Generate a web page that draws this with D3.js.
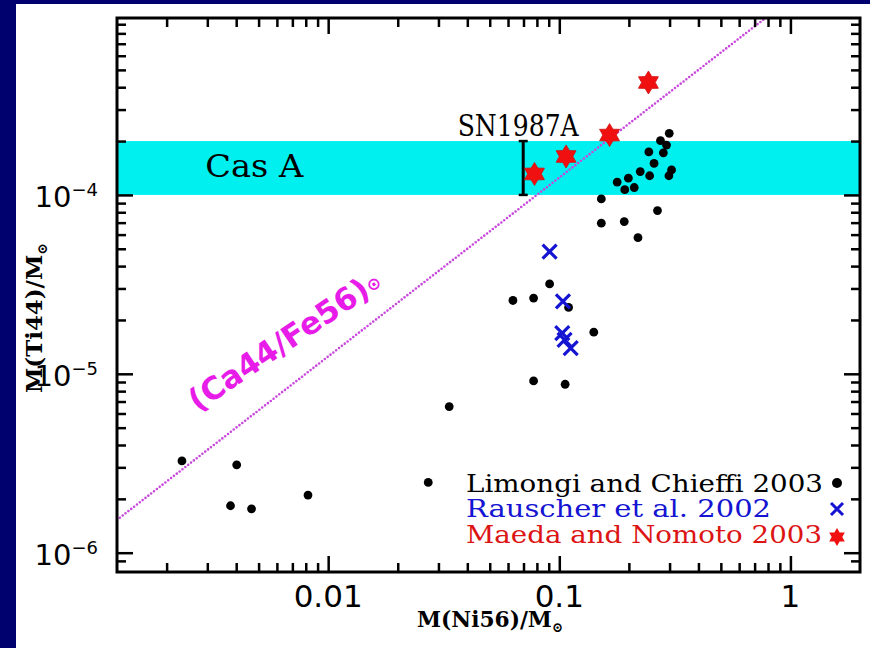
<!DOCTYPE html>
<html>
<head>
<meta charset="utf-8">
<script src="https://cdn.jsdelivr.net/npm/d3@7"></script>
<style>
  body { margin: 0; background: #00006f; }
  svg { display: block; }
</style>
</head>
<body>
<svg id="chart" width="870" height="648"></svg>
<script>
// Data
const limongiNi = [0.299, 0.274, 0.291, 0.282, 0.244, 0.257, 0.306, 0.298, 0.224, 0.246, 0.178, 0.199, 0.192, 0.211, 0.152, 0.266, 0.152, 0.191, 0.219,
                   0.0908, 0.063, 0.0774, 0.1097, 0.141, 0.0774, 0.106,
                   0.00233, 0.00402, 0.00378, 0.00466, 0.0334, 0.0271, 0.00818];
const limongiTi = [2.21e-4, 2.01e-4, 1.90e-4, 1.72e-4, 1.74e-4, 1.50e-4, 1.38e-4, 1.28e-4, 1.35e-4, 1.28e-4, 1.18e-4, 1.24e-4, 1.07e-4, 1.10e-4, 9.5e-5, 8.17e-5, 6.95e-5, 7.1e-5, 5.77e-5,
                   3.18e-5, 2.57e-5, 2.65e-5, 2.35e-5, 1.71e-5, 9.12e-6, 8.74e-6,
                   3.26e-6, 3.10e-6, 1.83e-6, 1.76e-6, 6.56e-6, 2.47e-6, 2.10e-6];
const rauscherNi = [0.0908, 0.1037, 0.103, 0.1054, 0.112];
const rauscherTi = [4.82e-5, 2.54e-5, 1.69e-5, 1.55e-5, 1.39e-5];
const maedaNi = [0.0781, 0.107, 0.165, 0.243];
const maedaTi = [1.31e-4, 1.64e-4, 2.16e-4, 4.25e-4];

const casABand = [1e-4, 2e-4];
const sn1987aNi = 0.0698;
const sn1987aTi = [1e-4, 2e-4];
const solarRatio = 1.25e-3;   // Ti44/Ni56 along (Ca44/Fe56)sun

const xMajor = [0.01, 0.1, 1];
const xMajorLabels = ["0.01", "0.1", "1"];
const xMinor = [0.002, 0.003, 0.004, 0.005, 0.006, 0.007, 0.008, 0.009,
                0.02, 0.03, 0.04, 0.05, 0.06, 0.07, 0.08, 0.09,
                0.2, 0.3, 0.4, 0.5, 0.6, 0.7, 0.8, 0.9];
const yMajor = [1e-6, 1e-5, 1e-4];
const yMajorExp = ["6", "5", "4"];
const yMinor = [9e-7, 2e-6, 3e-6, 4e-6, 5e-6, 6e-6, 7e-6, 8e-6, 9e-6,
                2e-5, 3e-5, 4e-5, 5e-5, 6e-5, 7e-5, 8e-5, 9e-5,
                2e-4, 3e-4, 4e-4, 5e-4, 6e-4, 7e-4, 8e-4, 9e-4];

const legendLabels = ["Limongi and Chieffi 2003", "Rauscher et al. 2002", "Maeda and Nomoto 2003"];
const legendColors = ["#000000", "#1414d2", "#dc1414"];

// Layout
const plot = { left: 117, right: 860, top: 18, bottom: 572 };
const svg = d3.select('#chart');

svg.append('rect').attr('x', 0).attr('y', 0).attr('width', 870).attr('height', 648).attr('fill', '#00006f');
svg.append('rect').attr('x', 16).attr('y', 4).attr('width', 854).attr('height', 644).attr('fill', '#ffffff');

const x = d3.scaleLog().domain([0.00122, 2.0]).range([plot.left, plot.right]);
const y = d3.scaleLog().domain([7.8e-7, 9.75e-4]).range([plot.bottom, plot.top]);

svg.append('clipPath').attr('id', 'clip').append('rect')
    .attr('x', plot.left).attr('y', plot.top)
    .attr('width', plot.right - plot.left).attr('height', plot.bottom - plot.top);

const g = svg.append('g').attr('clip-path', 'url(#clip)');

// Cas A band
g.append('rect')
    .attr('x', plot.left).attr('width', plot.right - plot.left)
    .attr('y', y(casABand[1])).attr('height', y(casABand[0]) - y(casABand[1]))
    .attr('fill', '#00f0f0');

// solar ratio line
const lineX = x.domain();
g.append('path')
    .attr('d', d3.line()([[x(lineX[0]), y(lineX[0] * solarRatio)], [x(lineX[1]), y(lineX[1] * solarRatio)]]))
    .attr('stroke', '#c848dc').attr('stroke-width', 2.6)
    .attr('stroke-dasharray', '0,3.6').attr('stroke-linecap', 'round').attr('fill', 'none');

// line label
const labPos = [x(0.00272), y(6.1e-6)];
const lab = svg.append('text')
    .attr('transform', `translate(${labPos[0]},${labPos[1]}) rotate(-34)`)
    .attr('font-family', 'DejaVu Sans').attr('font-weight', 'bold').attr('font-size', 31)
    .attr('fill', '#e81ce8');
lab.append('tspan').text('(Ca44/Fe56)');
lab.append('tspan').attr('font-size', 17).attr('dy', -2).text('⊙');

// Cas A label
svg.append('text')
    .attr('x', x(0.00294)).attr('y', y(1.26e-4))
    .attr('font-family', 'DejaVu Serif').attr('font-size', 32)
    .attr('textLength', 98).attr('lengthAdjust', 'spacingAndGlyphs')
    .text('Cas A');

// SN1987A bar
const snX = x(sn1987aNi);
g.append('line').attr('x1', snX).attr('x2', snX).attr('y1', y(sn1987aTi[0])).attr('y2', y(sn1987aTi[1]))
    .attr('stroke', '#000').attr('stroke-width', 3);
sn1987aTi.forEach(v => {
    g.append('line').attr('x1', snX - 4.5).attr('x2', snX + 4.5).attr('y1', y(v)).attr('y2', y(v))
        .attr('stroke', '#000').attr('stroke-width', 2.5);
});
svg.append('text')
    .attr('x', snX - 5).attr('y', y(sn1987aTi[1]) - 5)
    .attr('text-anchor', 'middle')
    .attr('font-family', 'DejaVu Serif').attr('font-size', 29)
    .attr('textLength', 121).attr('lengthAdjust', 'spacingAndGlyphs')
    .text('SN1987A');

// symbols
const starPath = (R, r) => {
    const pts = d3.range(12).map(i => {
        const a = -Math.PI / 2 + i * Math.PI / 6, rad = i % 2 === 0 ? R : r;
        return [rad * Math.cos(a), rad * Math.sin(a)];
    });
    return d3.line()(pts) + 'Z';
};
const crossPath = s => `M${-s},${-s}L${s},${s}M${-s},${s}L${s},${-s}`;

g.selectAll('circle.lim').data(limongiNi).enter().append('circle')
    .attr('class', 'lim')
    .attr('cx', d => x(d)).attr('cy', (d, i) => y(limongiTi[i]))
    .attr('r', 4.4).attr('fill', '#000');

g.selectAll('path.rau').data(rauscherNi).enter().append('path')
    .attr('class', 'rau')
    .attr('transform', (d, i) => `translate(${x(d)},${y(rauscherTi[i])})`)
    .attr('d', crossPath(7)).attr('stroke', legendColors[1]).attr('stroke-width', 3.2).attr('fill', 'none');

g.selectAll('path.mae').data(maedaNi).enter().append('path')
    .attr('class', 'mae')
    .attr('transform', (d, i) => `translate(${x(d)},${y(maedaTi[i])})`)
    .attr('d', starPath(11.5, 6.8)).attr('fill', '#f01010').attr('stroke', '#d01010').attr('stroke-width', 0.8);

// axes: ticks inward on all four sides
const tickStyle = sel => {
    sel.select('.domain').remove();
    sel.selectAll('.tick line').attr('stroke', '#000').attr('stroke-width', 2.5);
};
const axes = [
    [d3.axisBottom(x), `translate(0,${plot.bottom})`, xMajor, xMinor],
    [d3.axisTop(x), `translate(0,${plot.top})`, xMajor, xMinor],
    [d3.axisLeft(y), `translate(${plot.left},0)`, yMajor, yMinor],
    [d3.axisRight(y), `translate(${plot.right},0)`, yMajor, yMinor]
];
axes.forEach(([ax, tr, major, minor]) => {
    svg.append('g').attr('transform', tr)
        .call(ax.tickValues(minor).tickSize(-9).tickFormat(''))
        .call(tickStyle);
    svg.append('g').attr('transform', tr)
        .call(ax.tickValues(major).tickSize(-16).tickFormat(''))
        .call(tickStyle);
});

svg.append('rect')
    .attr('x', plot.left).attr('y', plot.top)
    .attr('width', plot.right - plot.left).attr('height', plot.bottom - plot.top)
    .attr('fill', 'none').attr('stroke', '#000').attr('stroke-width', 3);

// tick labels
svg.selectAll('text.xt').data(xMajor).enter().append('text')
    .attr('class', 'xt')
    .attr('x', d => x(d)).attr('y', plot.bottom + 35)
    .attr('text-anchor', 'middle')
    .attr('font-family', 'DejaVu Sans').attr('font-size', 31)
    .text((d, i) => xMajorLabels[i]);

const yt = svg.selectAll('text.yt').data(yMajor).enter().append('text')
    .attr('class', 'yt')
    .attr('x', plot.left - 19).attr('y', d => y(d) + 12)
    .attr('text-anchor', 'end')
    .attr('font-family', 'DejaVu Sans').attr('font-size', 29);
yt.append('tspan').text('10');
yt.append('tspan').attr('dy', -11).attr('font-size', 18).text((d, i) => '\u2212' + yMajorExp[i]);

// axis titles
const xt = svg.append('text')
    .attr('x', 490).attr('y', 627).attr('text-anchor', 'middle')
    .attr('font-family', 'DejaVu Serif').attr('font-weight', 'bold').attr('font-size', 23)
    .attr('textLength', 146).attr('lengthAdjust', 'spacingAndGlyphs');
xt.append('tspan').text('M(Ni56)/M');
xt.append('tspan').attr('font-size', 14).attr('dy', 5).text('⊙');

const ytl = svg.append('text')
    .attr('transform', 'translate(42,318) rotate(-90)').attr('text-anchor', 'middle')
    .attr('font-family', 'DejaVu Serif').attr('font-weight', 'bold').attr('font-size', 23)
    .attr('textLength', 150).attr('lengthAdjust', 'spacingAndGlyphs');
ytl.append('tspan').text('M(Ti44)/M');
ytl.append('tspan').attr('font-size', 14).attr('dy', 5).text('⊙');

// legend
const legBase = [plot.bottom - 80, plot.bottom - 55, plot.bottom - 29];
const legWidth = [357, 305, 356];
legendLabels.forEach((t, i) => {
    svg.append('text')
        .attr('x', 466).attr('y', legBase[i])
        .attr('font-family', 'DejaVu Serif').attr('font-size', 25)
        .attr('textLength', legWidth[i]).attr('lengthAdjust', 'spacingAndGlyphs')
        .attr('fill', legendColors[i]).text(t);
});
const mx = plot.right - 23;
svg.append('circle').attr('cx', mx).attr('cy', legBase[0] - 9).attr('r', 5).attr('fill', '#000');
svg.append('path').attr('transform', `translate(${mx},${legBase[1] - 8})`)
    .attr('d', crossPath(6)).attr('stroke', legendColors[1]).attr('stroke-width', 3).attr('fill', 'none');
svg.append('path').attr('transform', `translate(${mx},${legBase[2] - 6})`)
    .attr('d', starPath(9, 5.3)).attr('fill', '#f01010');
</script>
</body>
</html>
